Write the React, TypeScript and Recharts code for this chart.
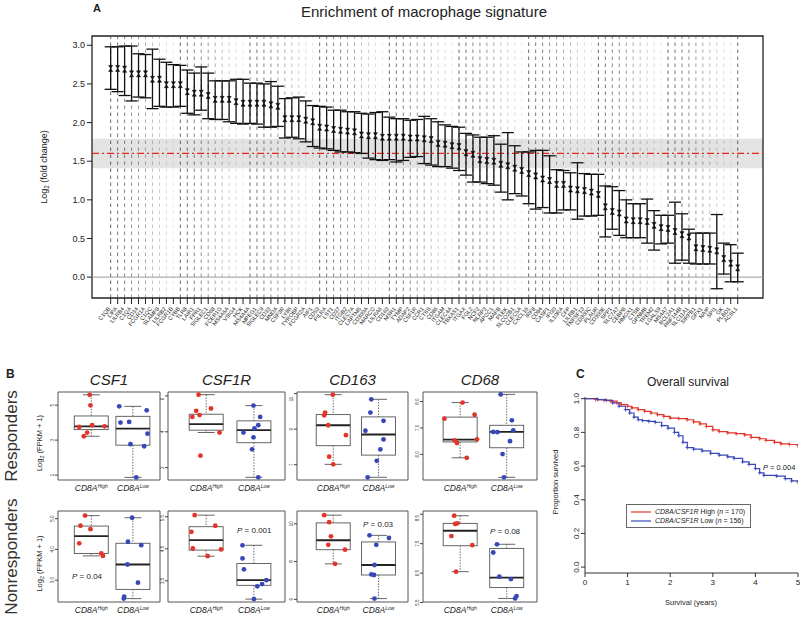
import React from "react";
import {
  Bar,
  ComposedChart,
  ErrorBar,
  Legend,
  Line,
  LineChart,
  ReferenceArea,
  ReferenceLine,
  Scatter,
  XAxis,
  YAxis,
} from "recharts";

const FONT = '"Liberation Sans", Arial, Helvetica, sans-serif';
const RED = "#e3342b";
const BLUE = "#3847b8";

// ---------- Panel A: enrichment of macrophage signature ----------
const genes = [
  "C1QB", "LIPA", "LILRB4", "C1QA", "CD14", "FCGR1A", "C1QC", "SLAMF8", "LILRB2", "FCGR1B",
  "CYBB", "TLR8", "LAIR1", "FPR1", "SIGLEC1", "CD68", "FCER1G", "MS4A6A", "VSIG4", "HCK",
  "MS4A4A", "MPEG1", "SIGLEC9", "CD33", "MNDA", "CSF3R", "LY86", "TYROBP", "FCGR2A", "AIF1",
  "CD53", "PILRA", "LST1", "CD37", "ITGB2", "CLEC7A", "LAPTM5", "CD300A", "MARCO", "LILRA6",
  "CD163", "MSR1", "TYMP", "ADAP2", "CSF1R", "CCR1", "CTSS", "CD86", "ITGAM", "CLEC4A",
  "TBXAS1", "ITGAX", "FGL2", "NCF2", "NLRP3", "APOC1", "MAFB", "PLEK", "SLCO2B1", "CLEC5A",
  "CXCL16", "IRF8", "CD84", "CASP1", "IFI30", "IL10RA", "CFP", "LILRB1", "TNFSF13", "CD300C",
  "PLAUR", "CD300E", "SPP1", "SLC7A7", "CEBPB", "HMOX1", "CTSB", "GPNMB", "TREM2", "LGALS9",
  "MS4A7", "BCL2A1", "RNF144B", "SLC11A1", "SIRPB1", "GPX1", "NAIP", "SPI1", "GK", "PLBD1", "ACSL1",
];
const meanLog2Fc = [
  2.70, 2.70, 2.69, 2.63, 2.63, 2.63, 2.56, 2.56, 2.49, 2.49,
  2.49, 2.40, 2.38, 2.38, 2.35, 2.30, 2.30, 2.30, 2.27, 2.25,
  2.25, 2.25, 2.25, 2.23, 2.21, 2.05, 2.05, 2.05, 2.03, 2.01,
  1.94, 1.93, 1.91, 1.90, 1.89, 1.88, 1.84, 1.83, 1.83, 1.81,
  1.81, 1.81, 1.81, 1.80, 1.80, 1.79, 1.78, 1.73, 1.72, 1.70,
  1.69, 1.61, 1.59, 1.52, 1.51, 1.50, 1.46, 1.44, 1.41, 1.38,
  1.34, 1.31, 1.27, 1.25, 1.20, 1.20, 1.14, 1.13, 1.12, 1.10,
  1.07, 0.91, 0.85, 0.83, 0.74, 0.73, 0.73, 0.72, 0.67, 0.64,
  0.63, 0.59, 0.55, 0.52, 0.38, 0.37, 0.36, 0.34, 0.24, 0.18, 0.12,
];
const lowerLog2Fc = [
  2.43, 2.40, 2.35, 2.28, 2.33, 2.32, 2.18, 2.21, 2.20, 2.20,
  2.21, 2.12, 2.10, 2.16, 2.05, 2.04, 2.04, 2.01, 1.99, 1.98,
  1.99, 1.98, 1.94, 1.94, 1.95, 1.80, 1.81, 1.79, 1.75, 1.69,
  1.67, 1.66, 1.64, 1.62, 1.62, 1.61, 1.60, 1.54, 1.52, 1.51,
  1.52, 1.49, 1.51, 1.55, 1.56, 1.47, 1.45, 1.43, 1.43, 1.41,
  1.38, 1.32, 1.23, 1.23, 1.21, 1.19, 1.10, 1.00, 1.08, 1.05,
  0.95, 0.88, 0.90, 0.83, 0.83, 0.87, 0.87, 0.75, 0.79, 0.79,
  0.80, 0.52, 0.62, 0.54, 0.51, 0.51, 0.51, 0.44, 0.35, 0.43,
  0.44, 0.18, 0.22, 0.18, 0.17, 0.17, 0.17, -0.15, 0.04, -0.06, -0.06,
];
const upperLog2Fc = [
  2.98, 2.98, 2.99, 2.99, 2.89, 2.88, 2.95, 2.82, 2.78, 2.75,
  2.74, 2.68, 2.64, 2.72, 2.64, 2.54, 2.54, 2.54, 2.56, 2.56,
  2.51, 2.51, 2.50, 2.53, 2.47, 2.31, 2.32, 2.33, 2.28, 2.22,
  2.21, 2.20, 2.16, 2.16, 2.14, 2.14, 2.12, 2.11, 2.13, 2.14,
  2.07, 2.05, 2.05, 2.03, 2.04, 2.08, 2.05, 2.01, 1.97, 1.95,
  1.94, 1.86, 1.84, 1.81, 1.81, 1.83, 1.72, 1.87, 1.70, 1.62,
  1.62, 1.64, 1.64, 1.57, 1.39, 1.38, 1.35, 1.48, 1.34, 1.33,
  1.33, 1.18, 1.17, 1.12, 1.00, 0.95, 0.95, 1.01, 0.86, 0.80,
  0.80, 0.97, 0.82, 0.62, 0.57, 0.57, 0.57, 0.81, 0.44, 0.42, 0.31,
];
const signatureBand = [1.41, 1.79];
const signatureMean = 1.6;
const aTicks = [0, 0.5, 1, 1.5, 2, 2.5, 3];
const aDomainY = [-0.27, 3.12];
const aDomainX = [-2.68, 93.63];

// ---------- Panel B: box plots (log2 FPKM + 1) ----------
// box stats are [lower whisker, Q1, median, Q3, upper whisker]
const csf1RespHigh = [5.59, 4.99, 3.85, 3.79, 3.75, 3.43, 3.22];
const csf1RespHighJit = [-0.04, -0.02, 0.02, 0.32, -0.29, -0.1, -0.18];
const csf1RespLow = [4.93, 4.0, 4.04, 4.7, 3.37, 2.77, 2.65, 0.87];
const csf1RespLowJit = [-0.33, -0.3, -0.09, 0.33, 0.35, -0.06, 0.27, 0.08];
const csf1RespBox = [[3.22, 3.6, 3.79, 4.38, 5.59], [0.87, 2.71, 3.66, 4.36, 4.93]];

const csf1rRespHigh = [6.07, 5.3, 5.17, 4.93, 4.83, 3.96, 2.67];
const csf1rRespHighJit = [-0.16, 0.1, -0.21, -0.14, -0.29, 0.28, -0.12];
const csf1rRespLow = [5.46, 4.83, 4.37, 4.19, 3.96, 3.69, 3.02, 1.46];
const csf1rRespLowJit = [-0.01, 0.13, 0.09, 0.01, -0.22, -0.01, -0.04, 0.09];
const csf1rRespBox = [[3.96, 4.09, 4.43, 4.98, 6.07], [1.46, 3.39, 4.09, 4.61, 5.46]];

const cd163RespHigh = [10.94, 9.93, 9.78, 9.22, 8.66, 7.45, 7.02];
const cd163RespHighJit = [-0.01, -0.18, -0.2, -0.11, 0.28, -0.09, 0];
const cd163RespLow = [10.68, 9.93, 9.47, 8.91, 8.42, 7.86, 7.22, 6.29];
const cd163RespLowJit = [-0.16, -0.18, 0.11, -0.29, 0.11, 0.04, -0.04, -0.24];
const cd163RespBox = [[7.02, 8.07, 9.22, 9.82, 10.94], [6.29, 7.54, 8.7, 9.69, 10.68]];

const cd68RespHigh = [7.96, 7.35, 7.5, 6.53, 6.43, 6.57, 5.87];
const cd68RespHighJit = [0.05, -0.34, 0.31, -0.12, -0.07, 0.36, 0.14];
const cd68RespLow = [8.27, 7.29, 6.91, 6.85, 6.84, 6.5, 6.01, 5.13];
const cd68RespLowJit = [-0.13, 0.11, 0.14, -0.29, -0.2, 0.07, -0.09, -0.06];
const cd68RespBox = [[5.87, 6.47, 6.56, 7.41, 7.96], [5.13, 6.25, 6.85, 7.1, 8.27]];

const csf1NonHigh = [5.1, 4.77, 4.66, 4.2, 3.87, 3.79];
const csf1NonHighJit = [-0.15, -0.26, -0.02, -0.29, 0.24, 0.28];
const csf1NonLow = [5.03, 4.25, 4.14, 3.51, 2.92, 2.46, 2.4];
const csf1NonLowJit = [-0.02, -0.12, 0.2, -0.13, 0.12, -0.21, -0.22];
const csf1NonBox = [[3.79, 3.87, 4.43, 4.76, 5.1], [2.4, 2.7, 3.51, 4.2, 5.03]];

const csf1rNonHigh = [5.55, 5.03, 5.22, 4.51, 4.48, 4.27];
const csf1rNonHighJit = [-0.24, -0.31, 0.19, -0.28, 0.31, 0.03];
const csf1rNonLow = [4.61, 4.2, 3.86, 3.52, 3.4, 3.33, 2.93];
const csf1rNonLowJit = [-0.24, -0.24, -0.21, 0.26, 0.17, 0.07, 0];
const csf1rNonBox = [[4.27, 4.46, 4.77, 5.19, 5.55], [2.93, 3.36, 3.52, 4.04, 4.61]];

const cd163NonHigh = [10.46, 10.09, 9.34, 8.89, 8.63, 7.88];
const cd163NonHighJit = [-0.2, -0.09, -0.05, -0.11, 0.26, 0.04];
const cd163NonLow = [9.39, 9.25, 8.89, 7.82, 7.32, 7.29, 6.04];
const cd163NonLowJit = [-0.2, 0.23, -0.05, -0.09, -0.16, -0.1, -0.09];
const cd163NonBox = [[7.88, 8.63, 9.13, 10.05, 10.46], [6.04, 7.29, 7.82, 9.04, 9.39]];

const cd68NonHigh = [8.45, 8.17, 8.19, 7.76, 7.45, 6.55];
const cd68NonHighJit = [-0.13, -0.11, -0.06, -0.19, 0.26, -0.09];
const cd68NonLow = [7.48, 7.2, 6.38, 6.3, 5.72, 5.64];
const cd68NonLowJit = [-0.21, -0.29, -0.16, 0.09, 0.21, 0.18];
const cd68NonBox = [[6.55, 7.43, 7.94, 8.19, 8.45], [5.64, 6.01, 6.35, 7.34, 7.48]];

const boxGenes = ["CSF1", "CSF1R", "CD163", "CD68"];
const rowNames = ["Responders", "Nonresponders"];

// ---------- Panel C: overall survival ----------
const highTimes = [0, 0.25, 0.45, 0.6, 0.75, 0.85, 1.0, 1.1, 1.25, 1.4, 1.55, 1.7, 1.85, 2.0, 2.2, 2.4, 2.55, 2.7, 2.85, 3.0, 3.15, 3.35, 3.55, 3.75, 3.9, 4.1, 4.25, 4.45, 4.6, 4.8, 5.0];
const highSurv = [1.0, 0.995, 0.99, 0.985, 0.975, 0.965, 0.955, 0.945, 0.935, 0.925, 0.915, 0.905, 0.895, 0.885, 0.882, 0.875, 0.862, 0.85, 0.835, 0.815, 0.805, 0.797, 0.792, 0.785, 0.77, 0.762, 0.752, 0.74, 0.732, 0.728, 0.72];
const lowTimes = [0, 0.3, 0.5, 0.65, 0.8, 0.95, 1.05, 1.15, 1.25, 1.35, 1.5, 1.65, 1.8, 1.95, 2.1, 2.2, 2.3, 2.4, 2.55, 2.75, 2.95, 3.15, 3.35, 3.5, 3.7, 3.85, 4.0, 4.1, 4.2, 4.5, 4.7, 4.85, 5.0];
const lowSurv = [1.0, 0.995, 0.99, 0.975, 0.955, 0.935, 0.915, 0.89, 0.875, 0.87, 0.865, 0.86, 0.84, 0.825, 0.8, 0.78, 0.74, 0.71, 0.7, 0.69, 0.675, 0.665, 0.655, 0.645, 0.625, 0.61, 0.585, 0.56, 0.545, 0.54, 0.525, 0.512, 0.505];
const survGroups = ["High", "Low"];
const survN = [170, 156];
const survTicksX = [0, 1, 2, 3, 4, 5];
const survTicksY = [0, 0.2, 0.4, 0.6, 0.8, 1.0];

// ---------- layout ----------
const colFrames = [
  { x: 58, w: 102 },
  { x: 168, w: 117 },
  { x: 297, w: 111 },
  { x: 423, w: 114 },
];
const rowFrames = [
  { y: 392, h: 88 },
  { y: 511, h: 91 },
];
const fade = [0.8, 0.72, 0.66, 0.6, 0.52, 0.44, 0.34, 0.26, 0.18, 0.12];
const BOX_HALF = 17;

const geneRows = genes.map((g, i) => ({
  idx: i,
  gene: g,
  mean: meanLog2Fc[i],
  err: [meanLog2Fc[i] - lowerLog2Fc[i], upperLog2Fc[i] - meanLog2Fc[i]],
}));

function GeneTick(props: any) {
  const { x, y, payload } = props;
  return (
    <text
      x={x}
      y={y + 3}
      transform={`rotate(-50 ${x} ${y + 3})`}
      textAnchor="end"
      fontSize={5.6}
      fontFamily={FONT}
      fill="#222"
    >
      {genes[payload.value]}
    </text>
  );
}

function Hourglass(props: any) {
  const { cx, cy } = props;
  if (cx == null || cy == null) return <g />;
  return (
    <path
      d={`M${cx - 2},${cy - 3}H${cx + 2}L${cx - 2},${cy + 3}H${cx + 2}Z`}
      fill="#111"
      stroke="#111"
      strokeWidth={0.6}
    />
  );
}

function PanelA() {
  return (
    <ComposedChart
      width={800}
      height={345}
      data={geneRows}
      margin={{ top: 36, right: 37, bottom: 0, left: 50 }}
    >
      <XAxis
        dataKey="idx"
        type="number"
        domain={aDomainX}
        ticks={geneRows.map((r) => r.idx)}
        interval={0}
        tick={<GeneTick />}
        tickSize={6}
        tickLine={{ stroke: "#222" }}
        axisLine={false}
        height={47}
        allowDataOverflow
      />
      <YAxis
        type="number"
        domain={aDomainY}
        ticks={aTicks}
        tickFormatter={(v: number) => v.toFixed(1)}
        tick={{ fontSize: 9, fill: "#222", fontFamily: FONT }}
        tickLine={{ stroke: "#222" }}
        tickSize={5}
        axisLine={false}
        width={42}
        allowDataOverflow
      />
      {geneRows.map((r) => (
        <ReferenceLine
          key={r.gene + r.idx}
          x={r.idx}
          stroke="#444"
          strokeOpacity={fade[r.idx % 10]}
          strokeDasharray="3.5 3.5"
          strokeWidth={1}
        />
      ))}
      <ReferenceArea
        x1={aDomainX[0]}
        x2={aDomainX[1]}
        y1={signatureBand[0]}
        y2={signatureBand[1]}
        fill="#e3e3e3"
        fillOpacity={1}
        stroke="none"
      />
      <ReferenceLine y={0} stroke="#9a9a9a" strokeWidth={1} />
      <ReferenceLine y={signatureMean} stroke="#e8261c" strokeDasharray="7 3 2 3" strokeWidth={1.2} />
      <Scatter dataKey="mean" shape={<Hourglass />} isAnimationActive={false}>
        <ErrorBar dataKey="err" direction="y" width={6} stroke="#111" strokeWidth={1.3} />
      </Scatter>
      <ReferenceArea
        x1={aDomainX[0]}
        x2={aDomainX[1]}
        y1={aDomainY[0]}
        y2={aDomainY[1]}
        fill="none"
        stroke="#222"
        strokeWidth={1.3}
      />
    </ComposedChart>
  );
}

// ---------- Panel B helpers ----------
function BoxShape(props: any) {
  const { x, y, width, height, payload } = props;
  if (!payload) return <g />;
  const top = Math.min(y, y + height);
  const span = Math.abs(height);
  const [lo, q1, med, q3, hi] = payload.stats;
  const py = (v: number) => top + ((hi - v) / (hi - lo)) * span;
  const cx = x + width / 2;
  const left = cx - BOX_HALF;
  const cap = BOX_HALF / 2;
  return (
    <g fill="none" stroke="#555" strokeWidth={0.9}>
      <line x1={cx} x2={cx} y1={py(hi)} y2={py(q3)} strokeDasharray="1.4 1.4" />
      <line x1={cx} x2={cx} y1={py(q1)} y2={py(lo)} strokeDasharray="1.4 1.4" />
      <line x1={cx - cap} x2={cx + cap} y1={py(hi)} y2={py(hi)} />
      <line x1={cx - cap} x2={cx + cap} y1={py(lo)} y2={py(lo)} />
      <rect x={left} y={py(q3)} width={BOX_HALF * 2} height={py(q1) - py(q3)} fill="#fff" />
      <line x1={left} x2={left + BOX_HALF * 2} y1={py(med)} y2={py(med)} stroke="#222" strokeWidth={1.8} />
    </g>
  );
}

function GroupTick(props: any) {
  const { x, y, payload } = props;
  return (
    <text x={x} y={y + 9} textAnchor="middle" fontSize={8.5} fontStyle="italic" fontFamily={FONT} fill="#222">
      CD8A
      <tspan fontSize={5} dy={-3.5}>
        {payload.value === 1 ? "High" : "Low"}
      </tspan>
    </text>
  );
}

function TinyTick(props: any) {
  const { x, y, payload, fmt } = props;
  return (
    <text
      x={x}
      y={y}
      transform={`rotate(-90 ${x} ${y})`}
      textAnchor="middle"
      fontSize={4.5}
      fontFamily={FONT}
      fill="#333"
    >
      {fmt(payload.value)}
    </text>
  );
}

function Dot(props: any) {
  const { cx, cy, fill } = props;
  if (cx == null || cy == null) return <g />;
  return <circle cx={cx} cy={cy} r={2.4} fill={fill} />;
}

type BoxDef = {
  row: number;
  col: number;
  domain: number[];
  ticks: number[];
  digits: number;
  high: number[];
  highJit: number[];
  low: number[];
  lowJit: number[];
  box: number[][];
};

const boxDefs: BoxDef[] = [
  { row: 0, col: 0, domain: [0.72, 5.75], ticks: [1, 2, 3, 4, 5], digits: 0, high: csf1RespHigh, highJit: csf1RespHighJit, low: csf1RespLow, lowJit: csf1RespLowJit, box: csf1RespBox },
  { row: 0, col: 1, domain: [1.31, 6.22], ticks: [2, 3, 4, 5, 6], digits: 0, high: csf1rRespHigh, highJit: csf1rRespHighJit, low: csf1rRespLow, lowJit: csf1rRespLowJit, box: csf1rRespBox },
  { row: 0, col: 2, domain: [6.14, 11.09], ticks: [7, 8, 9, 10, 11], digits: 0, high: cd163RespHigh, highJit: cd163RespHighJit, low: cd163RespLow, lowJit: cd163RespLowJit, box: cd163RespBox },
  { row: 0, col: 3, domain: [5.03, 8.36], ticks: [5.5, 6, 6.5, 7, 7.5, 8], digits: 1, high: cd68RespHigh, highJit: cd68RespHighJit, low: cd68RespLow, lowJit: cd68RespLowJit, box: cd68RespBox },
  { row: 1, col: 0, domain: [2.29, 5.25], ticks: [2.5, 3, 3.5, 4, 4.5, 5], digits: 1, high: csf1NonHigh, highJit: csf1NonHighJit, low: csf1NonLow, lowJit: csf1NonLowJit, box: csf1NonBox },
  { row: 1, col: 1, domain: [2.84, 5.68], ticks: [3, 3.5, 4, 4.5, 5, 5.5], digits: 1, high: csf1rNonHigh, highJit: csf1rNonHighJit, low: csf1rNonLow, lowJit: csf1rNonLowJit, box: csf1rNonBox },
  { row: 1, col: 2, domain: [5.86, 10.68], ticks: [6, 7, 8, 9, 10], digits: 0, high: cd163NonHigh, highJit: cd163NonHighJit, low: cd163NonLow, lowJit: cd163NonLowJit, box: cd163NonBox },
  { row: 1, col: 3, domain: [5.52, 8.61], ticks: [5.5, 6, 6.5, 7, 7.5, 8, 8.5], digits: 1, high: cd68NonHigh, highJit: cd68NonHighJit, low: cd68NonLow, lowJit: cd68NonLowJit, box: cd68NonBox },
];

const pValues = [
  { row: 1, col: 0, text: "0.04", x: 72, y: 579 },
  { row: 1, col: 1, text: "0.001", x: 237, y: 533 },
  { row: 1, col: 2, text: "0.03", x: 363, y: 527 },
  { row: 1, col: 3, text: "0.08", x: 490, y: 534 },
];

const xDomainBox = [0.2, 2.65];

function BoxPanel({ d }: { d: BoxDef }) {
  const f = { ...colFrames[d.col], ...rowFrames[d.row] };
  const rows = [
    { x: 1, range: [d.box[0][0], d.box[0][4]], stats: d.box[0] },
    { x: 2, range: [d.box[1][0], d.box[1][4]], stats: d.box[1] },
  ];
  const highPts = d.high.map((v, i) => ({ x: 1 + d.highJit[i], y: v }));
  const lowPts = d.low.map((v, i) => ({ x: 2 + d.lowJit[i], y: v }));
  const fmt = (v: number) => v.toFixed(d.digits);
  return (
    <div style={{ position: "absolute", left: f.x - 20, top: f.y - 2 }}>
      <ComposedChart
        width={f.w + 22}
        height={f.h + 20}
        data={rows}
        margin={{ top: 2, right: 2, left: 0, bottom: 0 }}
      >
        <XAxis
          dataKey="x"
          type="number"
          domain={xDomainBox}
          ticks={[1, 2]}
          tick={<GroupTick />}
          tickLine={false}
          tickSize={0}
          axisLine={false}
          height={18}
          allowDataOverflow
        />
        <YAxis
          type="number"
          domain={d.domain}
          ticks={d.ticks}
          tick={<TinyTick fmt={fmt} />}
          tickSize={3}
          tickMargin={1}
          tickLine={{ stroke: "#444" }}
          axisLine={false}
          width={20}
          allowDataOverflow
        />
        <Bar dataKey="range" barSize={34} shape={<BoxShape />} isAnimationActive={false} />
        <Scatter data={highPts} dataKey="y" fill={RED} shape={<Dot />} isAnimationActive={false} />
        <Scatter data={lowPts} dataKey="y" fill={BLUE} shape={<Dot />} isAnimationActive={false} />
        <ReferenceArea
          x1={xDomainBox[0]}
          x2={xDomainBox[1]}
          y1={d.domain[0]}
          y2={d.domain[1]}
          fill="none"
          stroke="#555"
          strokeWidth={1}
        />
      </ComposedChart>
    </div>
  );
}

// ---------- Panel C helpers ----------
const highCurve = highTimes.map((t, i) => ({ t, s: highSurv[i] }));
const lowCurve = lowTimes.map((t, i) => ({ t, s: lowSurv[i] }));

function Censor(props: any) {
  const { cx, cy, stroke, index } = props;
  if (cx == null || cy == null || index === 0) return <g key={`c${index}`} />;
  return (
    <path
      key={`c${index}`}
      d={`M${cx - 1.8},${cy}H${cx + 1.8}M${cx},${cy - 2}V${cy + 2}`}
      stroke={stroke}
      strokeWidth={0.8}
      fill="none"
    />
  );
}

function SurvTickY(props: any) {
  const { x, y, payload } = props;
  return (
    <text x={x} y={y} transform={`rotate(-90 ${x} ${y})`} textAnchor="middle" fontSize={8} fontFamily={FONT} fill="#222">
      {payload.value.toFixed(1)}
    </text>
  );
}

function SurvLegend() {
  const colors = [RED, BLUE];
  return (
    <div
      style={{
        border: "1px solid #666",
        background: "#fff",
        padding: "2px 5px 2px 3px",
        fontFamily: FONT,
        fontSize: 7,
        lineHeight: "9px",
        color: "#222",
        whiteSpace: "nowrap",
      }}
    >
      {survGroups.map((g, i) => (
        <div key={g} style={{ display: "flex", alignItems: "center" }}>
          <svg width={22} height={6}>
            <line x1={1} x2={21} y1={3} y2={3} stroke={colors[i]} strokeWidth={1.2} />
          </svg>
          <span style={{ marginLeft: 3 }}>
            <i>CD8A/CSF1R</i> {g} (<i>n</i> = {survN[i]})
          </span>
        </div>
      ))}
    </div>
  );
}

function PanelC() {
  return (
    <div style={{ position: "absolute", left: 540, top: 380 }}>
      <LineChart width={260} height={238} margin={{ top: 17, right: 2, bottom: 0, left: 0 }}>
        <XAxis
          dataKey="t"
          type="number"
          domain={[0, 5]}
          ticks={survTicksX}
          tick={{ fontSize: 8, fill: "#222", fontFamily: FONT }}
          tickSize={4}
          tickLine={{ stroke: "#333" }}
          axisLine={{ stroke: "#333" }}
          height={45}
          allowDataOverflow
        />
        <YAxis
          type="number"
          domain={[-0.035, 1.01]}
          ticks={survTicksY}
          tick={<SurvTickY />}
          tickSize={4}
          tickLine={{ stroke: "#333" }}
          axisLine={{ stroke: "#333" }}
          width={45}
          allowDataOverflow
        />
        <Line
          data={highCurve}
          dataKey="s"
          type="stepAfter"
          stroke={RED}
          strokeWidth={1.2}
          dot={<Censor />}
          isAnimationActive={false}
        />
        <Line
          data={lowCurve}
          dataKey="s"
          type="stepAfter"
          stroke={BLUE}
          strokeWidth={1.2}
          dot={<Censor />}
          isAnimationActive={false}
        />
        <Legend
          layout="horizontal"
          verticalAlign="middle"
          align="center"
          content={<SurvLegend />}
          wrapperStyle={{ left: 86, top: 124, width: "auto" }}
        />
      </LineChart>
    </div>
  );
}

function Overlay() {
  return (
    <svg
      width={800}
      height={618}
      style={{ position: "absolute", left: 0, top: 0, pointerEvents: "none" }}
      fontFamily={FONT}
      fill="#222"
    >
      <text x={93} y={12} fontSize={11} fontWeight="bold">A</text>
      <text x={424} y={17} fontSize={15} textAnchor="middle">Enrichment of macrophage signature</text>
      <text x={47} y={167} fontSize={9} textAnchor="middle" transform="rotate(-90 47 167)">
        Log<tspan fontSize={6.5} dy={2}>2</tspan>
        <tspan dy={-2}> (fold change)</tspan>
      </text>

      <text x={6} y={378} fontSize={12} fontWeight="bold">B</text>
      {boxGenes.map((g, i) => (
        <text key={g} x={colFrames[i].x + colFrames[i].w / 2} y={385} fontSize={15} fontStyle="italic" textAnchor="middle">
          {g}
        </text>
      ))}
      {rowNames.map((r, i) => {
        const cy = rowFrames[i].y + rowFrames[i].h / 2;
        return (
          <g key={r}>
            <text x={17} y={cy} fontSize={17} textAnchor="middle" transform={`rotate(-90 17 ${cy})`} fill="#333">
              {r}
            </text>
            <text x={42} y={cy + 7} fontSize={7.5} textAnchor="middle" transform={`rotate(-90 42 ${cy + 7})`}>
              Log<tspan fontSize={5.5} dy={1.5}>2</tspan>
              <tspan dy={-1.5}> (FPKM + 1)</tspan>
            </text>
          </g>
        );
      })}
      {pValues.map((p) => (
        <text key={p.text + p.col} x={p.x} y={p.y} fontSize={8}>
          <tspan fontStyle="italic">P</tspan> = {p.text}
        </text>
      ))}

      <text x={576} y={378} fontSize={12} fontWeight="bold">C</text>
      <text x={688} y={386} fontSize={12} textAnchor="middle">Overall survival</text>
      <text x={763} y={470} fontSize={7.5}>
        <tspan fontStyle="italic">P</tspan> = 0.004
      </text>
      <text x={558} y={482} fontSize={7.5} textAnchor="middle" transform="rotate(-90 558 482)">
        Proportion survived
      </text>
      <text x={691} y={605} fontSize={7.5} textAnchor="middle">Survival (years)</text>
    </svg>
  );
}

export default function App() {
  return (
    <div
      style={{
        position: "absolute",
        left: 0,
        top: 0,
        width: 800,
        height: 618,
        background: "#fff",
        overflow: "hidden",
        fontFamily: FONT,
      }}
    >
      <div style={{ position: "absolute", left: 0, top: 0 }}>
        <PanelA />
      </div>
      {boxDefs.map((d) => (
        <BoxPanel key={`${d.row}-${d.col}`} d={d} />
      ))}
      <PanelC />
      <Overlay />
    </div>
  );
}
